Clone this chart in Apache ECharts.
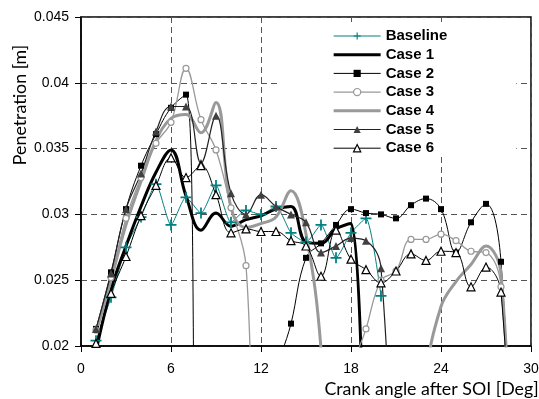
<!DOCTYPE html>
<html>
<head>
<meta charset="utf-8">
<script src="https://cdn.jsdelivr.net/npm/echarts@6/dist/echarts.min.js"></script>
<style>
  html, body { margin: 0; padding: 0; background: #fff; }
  #main { width: 539px; height: 399px; }
</style>
</head>
<body>
<div id="main"></div>
<script>
// crank angle (deg after SOI) of every sample
var angles = [1, 2, 3, 4, 5, 6, 7, 8, 9, 10, 11, 12, 13, 14, 15, 16, 17, 18, 19, 20, 21, 22, 23, 24, 25, 26, 27, 28, 29];
var xTicks = [0, 6, 12, 18, 24, 30];
var yTicks = [0.02, 0.025, 0.03, 0.035, 0.04, 0.045];
var seriesNames = ['Baseline', 'Case 1', 'Case 2', 'Case 3', 'Case 4', 'Case 5', 'Case 6'];

// penetration [m]; values under 0.02 fall off the bottom of the plot
var baseline = [0.0204, 0.0237, 0.0275, 0.0298, 0.0323, 0.0292, 0.0313, 0.0301, 0.0322, 0.0294,
  0.0303, 0.0300, 0.0306, 0.0286, 0.0279, 0.0292, 0.0267, 0.0286, 0.0297, 0.0238,
  null, null, null, null, null, null, null, null, null];
var case1 = [0.0196, 0.0243, 0.0276, 0.0306, 0.0332, 0.0349, 0.0314, 0.0288, 0.0301, 0.0291,
  0.0296, 0.0299, 0.0304, 0.0306, 0.0279, 0.0278, 0.0289, 0.0293, 0.0,
  null, null, null, null, null, null, null, null, null, null];
var case2 = [0.0213, 0.0256, 0.0304, 0.0337, 0.0361, 0.0381, 0.0391, 0.0, 0.0, 0.0,
  0.0, 0.0, 0.0175, 0.0217, 0.0267, 0.0278, 0.0292, 0.0304, 0.0301, 0.0300,
  0.0297, 0.0307, 0.0312, 0.0304, 0.0271, 0.0294, 0.0308, 0.0264, 0.0];
var case3 = [0.0212, 0.0252, 0.0297, 0.0328, 0.0354, 0.0370, 0.0411, 0.0372, 0.0349, 0.0305,
  0.0261, 0.0, 0.0, 0.0, 0.0, 0.0, 0.0, 0.0177, 0.0213, 0.0250,
  0.0257, 0.0281, 0.0281, 0.0285, 0.0280, 0.0272, 0.0271, 0.0245, 0.0];
var case4 = [0.0210, 0.0250, 0.0292, 0.0325, 0.0356, 0.0373, 0.0376, 0.0362, 0.0385, 0.0305,
  0.0290, 0.0293, 0.0298, 0.0318, 0.0285, 0.0198, 0.0, 0.0, 0.0, 0.0,
  0.0, 0.0, 0.0175, 0.0230, 0.0249, 0.0262, 0.0276, 0.0255, 0.0];
var case5 = [0.0213, 0.0255, 0.0304, 0.0331, 0.0363, 0.0382, 0.0382, 0.0339, 0.0375, 0.0316,
  0.0300, 0.0315, 0.0306, 0.0300, 0.0294, 0.0271, 0.0276, 0.0282, 0.0280, 0.0259,
  0.0, null, null, null, null, null, null, null, null];
var case6 = [0.0202, 0.0240, 0.0268, 0.0299, 0.0322, 0.0343, 0.0328, 0.0337, 0.0315, 0.0286,
  0.0289, 0.0287, 0.0287, 0.0280, 0.0276, 0.0253, 0.0288, 0.0266, 0.0258, 0.0248,
  0.0257, 0.0270, 0.0265, 0.0272, 0.0271, 0.0245, 0.0260, 0.0241, 0.0];

var plusIcon = 'path://M4.2,0H5.8V4.2H10V5.8H5.8V10H4.2V5.8H0V4.2H4.2Z';
var thickLineIcon = 'path://M0,0H47V3H0Z';

function pairs(values) {
  return angles.map(function (a, i) {
    return [a, values[i]];
  });
}

var chart = echarts.init(document.getElementById('main'), null, { renderer: 'canvas' });

var option = {
  animation: false,
  backgroundColor: '#ffffff',
  grid: {
    left: 81, right: 8, top: 17, bottom: 53,
    outerBoundsMode: 'none',
    show: true, borderColor: '#000', borderWidth: 1.5
  },
  legend: {
    left: 277, top: 22,
    orient: 'vertical',
    padding: [6.5, 69, 1, 56],
    backgroundColor: '#fff',
    itemWidth: 47, itemHeight: 9, itemGap: 3.7,
    lineStyle: { width: 'inherit' },
    itemStyle: { borderWidth: 'inherit' },
    textStyle: { fontFamily: 'Liberation Sans', fontWeight: 'bold', fontSize: 15, lineHeight: 15, color: '#000' },
    data: [
      { name: seriesNames[0] },
      { name: seriesNames[1], icon: thickLineIcon },
      { name: seriesNames[2] },
      { name: seriesNames[3] },
      { name: seriesNames[4], icon: thickLineIcon },
      { name: seriesNames[5] },
      { name: seriesNames[6] }
    ]
  },
  xAxis: {
    type: 'value',
    min: xTicks[0], max: xTicks[xTicks.length - 1], interval: xTicks[1] - xTicks[0],
    name: 'Crank angle after SOI [Deg]',
    nameLocation: 'middle', nameGap: 33, nameMoveOverlap: false,
    nameTextStyle: { fontFamily: 'Lato', fontSize: 17.8, lineHeight: 20, color: '#000', padding: [0, 0, 0, 251] },
    axisLine: { show: true, onZero: false, lineStyle: { color: '#000', width: 1.5 } },
    axisTick: { show: true, length: 6, lineStyle: { color: '#000' } },
    axisLabel: { margin: 16, fontFamily: 'Liberation Sans', fontSize: 14, color: '#000' },
    splitLine: { show: true, lineStyle: { color: '#555', width: 1, type: [6, 4] } }
  },
  yAxis: {
    type: 'value',
    min: yTicks[0], max: yTicks[yTicks.length - 1], interval: yTicks[1] - yTicks[0],
    name: 'Penetration [m]',
    nameLocation: 'middle', nameGap: 51, nameMoveOverlap: false,
    nameTextStyle: { fontFamily: 'Lato', fontSize: 17.8, lineHeight: 20, color: '#000', padding: [0, 0, 0, 153] },
    axisLine: { show: true, onZero: false, lineStyle: { color: '#000', width: 1.5 } },
    axisTick: { show: true, length: 6, lineStyle: { color: '#000' } },
    axisLabel: {
      margin: 12, fontFamily: 'Liberation Sans', fontSize: 14, color: '#000',
      formatter: function (v) { return String(+v.toFixed(3)); }
    },
    splitLine: { show: true, lineStyle: { color: '#555', width: 1, type: [6, 4] } }
  },
  series: [{
    name: seriesNames[0], type: 'line', data: pairs(baseline), smooth: 0.2,
    color: '#008080', symbol: plusIcon, symbolSize: 11,
    lineStyle: { color: '#008080', width: 1 }
  }, {
    name: seriesNames[1], type: 'line', data: pairs(case1), smooth: 0.4,
    color: '#000', symbol: 'none',
    lineStyle: { color: '#000', width: 3 }
  }, {
    name: seriesNames[2], type: 'line', data: pairs(case2), smooth: 0.4,
    color: '#000', symbol: 'rect', symbolSize: 6,
    lineStyle: { color: '#000', width: 1 }
  }, {
    name: seriesNames[3], type: 'line', data: pairs(case3), smooth: 0.4,
    color: '#999', symbol: 'circle', symbolSize: 6,
    itemStyle: { color: '#fff', borderColor: '#999', borderWidth: 1.2 },
    lineStyle: { color: '#999', width: 1.3 }
  }, {
    name: seriesNames[4], type: 'line', data: pairs(case4), smooth: 0.4,
    color: '#999', symbol: 'none',
    lineStyle: { color: '#999', width: 3 }
  }, {
    name: seriesNames[5], type: 'line', data: pairs(case5), smooth: 0.4,
    color: '#404040', symbol: 'triangle', symbolSize: 8,
    itemStyle: { color: '#404040' },
    lineStyle: { color: '#222', width: 1.2 }
  }, {
    name: seriesNames[6], type: 'line', data: pairs(case6), smooth: 0.4,
    color: '#000', symbol: 'triangle', symbolSize: 8,
    itemStyle: { color: '#fff', borderColor: '#000', borderWidth: 1.2 },
    lineStyle: { color: '#000', width: 1 }
  }]
};

chart.setOption(option);
</script>
</body>
</html>
